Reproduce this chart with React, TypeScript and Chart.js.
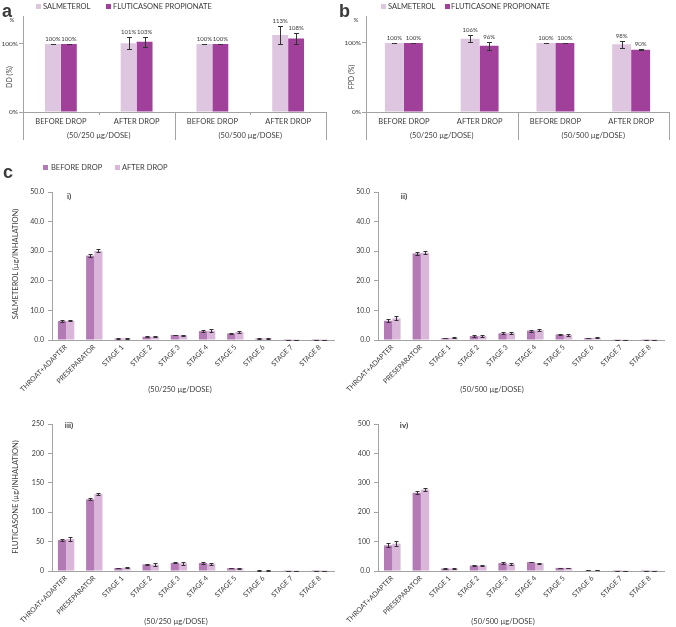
import React, { useEffect, useRef } from "react";
import { Chart, registerables } from "chart.js";
Chart.register(...registerables);

const FONT = "Lato, 'DejaVu Sans', sans-serif";
const TEXT = "#3a3a3a";
const AXIS = "#a3a3a3";
const SALM_COLOR = "#dfc6e0";
const FLUT_COLOR = "#a0409b";
const BEFORE_COLOR = "#b47ab6";
const AFTER_COLOR = "#d9b6da";

// ---------- Panels a / b ----------
const abCategories = ["BEFORE DROP", "AFTER DROP", "BEFORE DROP", "AFTER DROP"];
const abGroups = ["(50/250 µg/DOSE)", "(50/500 µg/DOSE)"];
const abTicks = [0, 100];

const ddSalmeterol = [100, 101, 100, 113];
const ddSalmeterolErr = [0.5, 9, 0.5, 13];
const ddFluticasone = [100, 103, 100, 108];
const ddFluticasoneErr = [0.5, 7, 0.5, 8];

const fpdSalmeterol = [100, 106, 100, 98];
const fpdSalmeterolErr = [0.5, 5, 0.5, 5.5];
const fpdFluticasone = [100, 96, 100, 90];
const fpdFluticasoneErr = [0.5, 6, 0.5, 0.5];

// ---------- Panel c ----------
const stageLabels = [
  "THROAT+ADAPTER", "PRESEPARATOR", "STAGE 1", "STAGE 2", "STAGE 3",
  "STAGE 4", "STAGE 5", "STAGE 6", "STAGE 7", "STAGE 8",
];

const salm250Before = [6.4, 28.5, 0.5, 1.1, 1.7, 3.0, 2.2, 0.5, 0.05, 0.03];
const salm250BeforeErr = [0.3, 0.5, 0.1, 0.1, 0.1, 0.3, 0.3, 0.1, 0.02, 0.02];
const salm250After = [6.5, 30.1, 0.6, 1.15, 1.6, 3.15, 2.7, 0.6, 0.05, 0.03];
const salm250AfterErr = [0.2, 0.5, 0.1, 0.1, 0.1, 0.4, 0.3, 0.1, 0.02, 0.02];

const salm500Before = [6.5, 29.2, 0.65, 1.35, 2.25, 3.15, 1.9, 0.65, 0.08, 0.05];
const salm500BeforeErr = [0.5, 0.5, 0.1, 0.3, 0.3, 0.3, 0.15, 0.1, 0.02, 0.02];
const salm500After = [7.3, 29.5, 0.75, 1.35, 2.3, 3.3, 1.7, 0.75, 0.08, 0.05];
const salm500AfterErr = [0.7, 0.6, 0.1, 0.4, 0.3, 0.4, 0.2, 0.1, 0.02, 0.02];

const flut250Before = [52.7, 122, 5.1, 11.3, 13.8, 13.6, 4.8, 1.1, 0.3, 0.2];
const flut250BeforeErr = [2.5, 2, 0.5, 1, 1, 1, 0.5, 0.3, 0.1, 0.1];
const flut250After = [54.5, 131, 5.7, 10.8, 13, 12.3, 4.8, 1.1, 0.3, 0.2];
const flut250AfterErr = [3, 2.5, 0.5, 2, 2, 1.5, 1, 0.3, 0.1, 0.1];

const flut500Before = [87, 266, 8.5, 18.5, 27, 30, 10.5, 2.3, 0.4, 0.3];
const flut500BeforeErr = [7, 5, 1, 3, 2, 1, 1, 0.5, 0.1, 0.1];
const flut500After = [93, 277, 8.5, 18.5, 23, 26, 10.5, 2.3, 0.4, 0.3];
const flut500AfterErr = [8, 6, 1, 3, 3, 2, 1, 0.5, 0.1, 0.1];

const salmTicks = [0, 10, 20, 30, 40, 50];
const flut250Ticks = [0, 50, 100, 150, 200, 250];
const flut500Ticks = [0, 100, 200, 300, 400, 500];

// ---------- Plugins ----------
const errorBarPlugin = {
  id: "errorBars",
  afterDatasetsDraw(chart: any, _a: any, opts: any) {
    const ctx = chart.ctx;
    const y = chart.scales.y;
    const cap = (opts && opts.cap) || 2.5;
    ctx.save();
    ctx.strokeStyle = "#333";
    ctx.lineWidth = 1;
    chart.data.datasets.forEach((ds: any, di: number) => {
      if (!ds.errors) return;
      chart.getDatasetMeta(di).data.forEach((bar: any, i: number) => {
        const v = ds.data[i];
        const e = ds.errors[i];
        const top = Math.round(y.getPixelForValue(v + e)) + 0.5;
        const bot = Math.round(y.getPixelForValue(Math.max(0, v - e))) + 0.5;
        const x = Math.round(bar.x) + 0.5;
        ctx.beginPath();
        ctx.moveTo(x, top);
        ctx.lineTo(x, bot);
        ctx.moveTo(x - cap, top);
        ctx.lineTo(x + cap, top);
        ctx.moveTo(x - cap, bot);
        ctx.lineTo(x + cap, bot);
        ctx.stroke();
      });
    });
    ctx.restore();
  },
};

const valueLabelPlugin = {
  id: "valueLabels",
  afterDatasetsDraw(chart: any, _a: any, opts: any) {
    if (!opts || !opts.show) return;
    const ctx = chart.ctx;
    const y = chart.scales.y;
    ctx.save();
    ctx.fillStyle = TEXT;
    ctx.font = `${opts.size || 6}px ${FONT}`;
    ctx.textAlign = "center";
    ctx.textBaseline = "alphabetic";
    chart.data.datasets.forEach((ds: any, di: number) => {
      chart.getDatasetMeta(di).data.forEach((bar: any, i: number) => {
        const v = ds.data[i];
        const e = ds.errors ? ds.errors[i] : 0;
        const top = Math.min(y.getPixelForValue(v + e), bar.y);
        ctx.fillText(v + "%", bar.x, top - 3);
      });
    });
    ctx.restore();
  },
};

const groupAxisPlugin = {
  id: "groupAxis",
  afterDraw(chart: any, _a: any, opts: any) {
    if (!opts || !opts.groups) return;
    const x = chart.scales.x;
    const area = chart.chartArea;
    const ctx = chart.ctx;
    const n = chart.data.labels.length;
    const bounds: number[] = [area.left];
    for (let i = 0; i < n - 1; i++) {
      bounds.push((x.getPixelForValue(i) + x.getPixelForValue(i + 1)) / 2);
    }
    bounds.push(area.right);
    const groups: string[] = opts.groups;
    const per = n / groups.length;
    ctx.save();
    ctx.strokeStyle = AXIS;
    ctx.lineWidth = 1;
    bounds.forEach((b, k) => {
      const len = k % per === 0 ? opts.lineLength : opts.tickLength;
      if (!len) return;
      const xx = Math.round(b) + 0.5;
      ctx.beginPath();
      ctx.moveTo(xx, area.bottom);
      ctx.lineTo(xx, area.bottom + len);
      ctx.stroke();
    });
    ctx.fillStyle = TEXT;
    ctx.font = `7.5px ${FONT}`;
    ctx.textAlign = "center";
    ctx.textBaseline = "middle";
    groups.forEach((g, gi) => {
      const c = (bounds[gi * per] + bounds[(gi + 1) * per]) / 2;
      ctx.fillText(g, c, area.bottom + opts.labelOffset);
    });
    ctx.restore();
  },
};

// ---------- Configs ----------
function abConfig(
  salm: number[], salmErr: number[], flut: number[], flutErr: number[],
  yMax: number, pad: any, catPct: number, shortTicks: number
) {
  return {
    type: "bar",
    data: {
      labels: abCategories,
      datasets: [
        { label: "SALMETEROL", data: salm, errors: salmErr, backgroundColor: SALM_COLOR, categoryPercentage: catPct, barPercentage: 1 },
        { label: "FLUTICASONE PROPIONATE", data: flut, errors: flutErr, backgroundColor: FLUT_COLOR, categoryPercentage: catPct, barPercentage: 1 },
      ],
    },
    options: {
      responsive: false,
      animation: false,
      layout: { padding: { top: pad.top, right: pad.right, left: 0, bottom: 0 } },
      plugins: {
        legend: { display: false },
        tooltip: { enabled: false },
        errorBars: { cap: 2.5 },
        valueLabels: { show: true, size: 6 },
        groupAxis: { groups: abGroups, lineLength: 28, tickLength: shortTicks, labelOffset: 24 },
      },
      scales: {
        x: {
          grid: { display: false, drawTicks: false },
          border: { color: AXIS },
          ticks: { autoSkip: false, maxRotation: 0, minRotation: 0, padding: 5, font: { family: FONT, size: 7.5 }, color: TEXT },
          afterFit: (s: any) => { s.height = pad.xh; },
        },
        y: {
          min: 0,
          max: yMax,
          afterBuildTicks: (s: any) => { s.ticks = abTicks.map((v) => ({ value: v })); },
          ticks: { callback: (v: any) => v + "%", font: { family: FONT, size: 6.5 }, color: TEXT, padding: 1 },
          grid: { drawOnChartArea: false, tickLength: 4, color: AXIS },
          border: { color: AXIS },
          afterFit: (s: any) => { s.width = pad.yw; },
        },
      },
    },
    plugins: [errorBarPlugin, valueLabelPlugin, groupAxisPlugin],
  };
}

function cascadeConfig(
  before: number[], beforeErr: number[], after: number[], afterErr: number[],
  ticks: number[], fmt: (v: number) => string, pad: any
) {
  return {
    type: "bar",
    data: {
      labels: stageLabels,
      datasets: [
        { label: "BEFORE DROP", data: before, errors: beforeErr, backgroundColor: BEFORE_COLOR, categoryPercentage: 0.58, barPercentage: 1 },
        { label: "AFTER DROP", data: after, errors: afterErr, backgroundColor: AFTER_COLOR, categoryPercentage: 0.58, barPercentage: 1 },
      ],
    },
    options: {
      responsive: false,
      animation: false,
      layout: { padding: { top: pad.top, right: pad.right, left: 0, bottom: 0 } },
      plugins: {
        legend: { display: false },
        tooltip: { enabled: false },
        errorBars: { cap: 2 },
      },
      scales: {
        x: {
          grid: { display: false, drawTicks: false },
          border: { color: AXIS },
          ticks: { autoSkip: false, minRotation: 45, maxRotation: 45, padding: 3, font: { family: FONT, size: 7 }, color: TEXT },
          afterFit: (s: any) => { s.height = pad.xh; },
        },
        y: {
          min: ticks[0],
          max: ticks[ticks.length - 1],
          afterBuildTicks: (s: any) => { s.ticks = ticks.map((v) => ({ value: v })); },
          ticks: { callback: (v: any) => fmt(v), font: { family: FONT, size: 7 }, color: TEXT, padding: 4 },
          grid: { drawOnChartArea: false, tickLength: 4, color: AXIS },
          border: { color: AXIS },
          afterFit: (s: any) => { s.width = pad.yw; },
        },
      },
    },
    plugins: [errorBarPlugin],
  };
}

// ---------- Components ----------
function ChartBox({ x, y, w, h, make }: any) {
  const ref = useRef<HTMLCanvasElement>(null);
  useEffect(() => {
    const chart = new Chart(ref.current as HTMLCanvasElement, make() as any);
    return () => chart.destroy();
  }, []);
  return (
    <canvas
      ref={ref}
      width={w}
      height={h}
      style={{ position: "absolute", left: x, top: y, width: w, height: h }}
    />
  );
}

function Txt({ x, y, text, size = 7.5, bold = false, rotate = 0, align = "center", family = FONT }: any) {
  const tx = align === "center" ? "-50%" : "0";
  return (
    <div
      style={{
        position: "absolute",
        left: x,
        top: y,
        fontFamily: family,
        fontSize: size,
        fontWeight: bold ? 700 : 400,
        color: TEXT,
        lineHeight: 1,
        whiteSpace: "nowrap",
        transform: `translate(${tx}, -50%) rotate(${rotate}deg)`,
        transformOrigin: align === "center" ? "center" : "left center",
      }}
    >
      {text}
    </div>
  );
}

function Swatch({ x, y, color }: any) {
  return <div style={{ position: "absolute", left: x, top: y, width: 5, height: 5, background: color }} />;
}

const fmt1 = (v: number) => v.toFixed(1);
const fmt0 = (v: number) => String(v);
const fmtIv = (v: number) => (v === 0 ? "0.0" : String(v));

export default function App() {
  useEffect(() => {
    document.body.style.margin = "0";
  }, []);
  const LET = "'Liberation Sans', Arial, sans-serif";
  return (
    <div style={{ position: "relative", width: 676, height: 627, overflow: "hidden", background: "#fff" }}>
      <ChartBox x={0} y={0} w={336} h={150}
        make={() => abConfig(ddSalmeterol, ddSalmeterolErr, ddFluticasone, ddFluticasoneErr, 141, { top: 16, right: 10, yw: 23, xh: 38 }, 0.42, 3)} />
      <ChartBox x={336} y={0} w={340} h={150}
        make={() => abConfig(fpdSalmeterol, fpdSalmeterolErr, fpdFluticasone, fpdFluticasoneErr, 139, { top: 16, right: 7, yw: 30, xh: 38 }, 0.5, 0)} />

      <ChartBox x={0} y={180} w={340} h={218}
        make={() => cascadeConfig(salm250Before, salm250BeforeErr, salm250After, salm250AfterErr, salmTicks, fmt1, { top: 12, right: 6, yw: 52, xh: 58 })} />
      <ChartBox x={336} y={180} w={340} h={218}
        make={() => cascadeConfig(salm500Before, salm500BeforeErr, salm500After, salm500AfterErr, salmTicks, fmt1, { top: 12, right: 12, yw: 42, xh: 58 })} />
      <ChartBox x={0} y={410} w={340} h={212}
        make={() => cascadeConfig(flut250Before, flut250BeforeErr, flut250After, flut250AfterErr, flut250Ticks, fmt0, { top: 14, right: 6, yw: 52, xh: 51 })} />
      <ChartBox x={336} y={410} w={340} h={212}
        make={() => cascadeConfig(flut500Before, flut500BeforeErr, flut500After, flut500AfterErr, flut500Ticks, fmtIv, { top: 14, right: 12, yw: 42, xh: 51 })} />

      {/* panel letters */}
      <Txt x={2} y={11} text="a" size={18} bold align="left" family={LET} />
      <Txt x={339} y={11} text="b" size={18} bold align="left" family={LET} />
      <Txt x={3} y={172} text="c" size={18} bold align="left" family={LET} />

      {/* legends a / b */}
      <Swatch x={36} y={4} color={SALM_COLOR} />
      <Txt x={43} y={6.5} text="SALMETEROL" align="left" />
      <Swatch x={106} y={4} color={FLUT_COLOR} />
      <Txt x={113} y={6.5} text="FLUTICASONE PROPIONATE" align="left" />
      <Swatch x={381} y={4} color={SALM_COLOR} />
      <Txt x={388} y={6.5} text="SALMETEROL" align="left" />
      <Swatch x={445} y={4} color={FLUT_COLOR} />
      <Txt x={451} y={6.5} text="FLUTICASONE PROPIONATE" align="left" />

      {/* legend c */}
      <Swatch x={43} y={165} color={BEFORE_COLOR} />
      <Txt x={51} y={167.5} text="BEFORE DROP" align="left" />
      <Swatch x={115} y={165} color={AFTER_COLOR} />
      <Txt x={122} y={167.5} text="AFTER DROP" align="left" />

      {/* % units */}
      <Txt x={12} y={20} text="%" size={6} />
      <Txt x={356} y={20} text="%" size={6} />

      {/* y titles */}
      <Txt x={9} y={77} text="DD (%)" size={7} rotate={-90} />
      <Txt x={351} y={77} text="FPD (%)" size={7} rotate={-90} />
      <Txt x={16} y={264} text="SALMETEROL (µg/INHALATION)" size={7.5} rotate={-90} />
      <Txt x={16} y={497} text="FLUTICASONE (µg/INHALATION)" size={7.5} rotate={-90} />

      {/* sub-panel numerals */}
      <Txt x={69} y={196} text="i)" size={8} bold />
      <Txt x={404} y={196} text="ii)" size={8} bold />
      <Txt x={69} y={425} text="iii)" size={8} bold />
      <Txt x={404} y={425} text="iv)" size={8} bold />

      {/* x titles */}
      <Txt x={180} y={390} text="(50/250 µg/DOSE)" size={7.5} />
      <Txt x={492} y={390} text="(50/500 µg/DOSE)" size={7.5} />
      <Txt x={176} y={622} text="(50/250 µg/DOSE)" size={7.5} />
      <Txt x={503} y={622} text="(50/500 µg/DOSE)" size={7.5} />
    </div>
  );
}
